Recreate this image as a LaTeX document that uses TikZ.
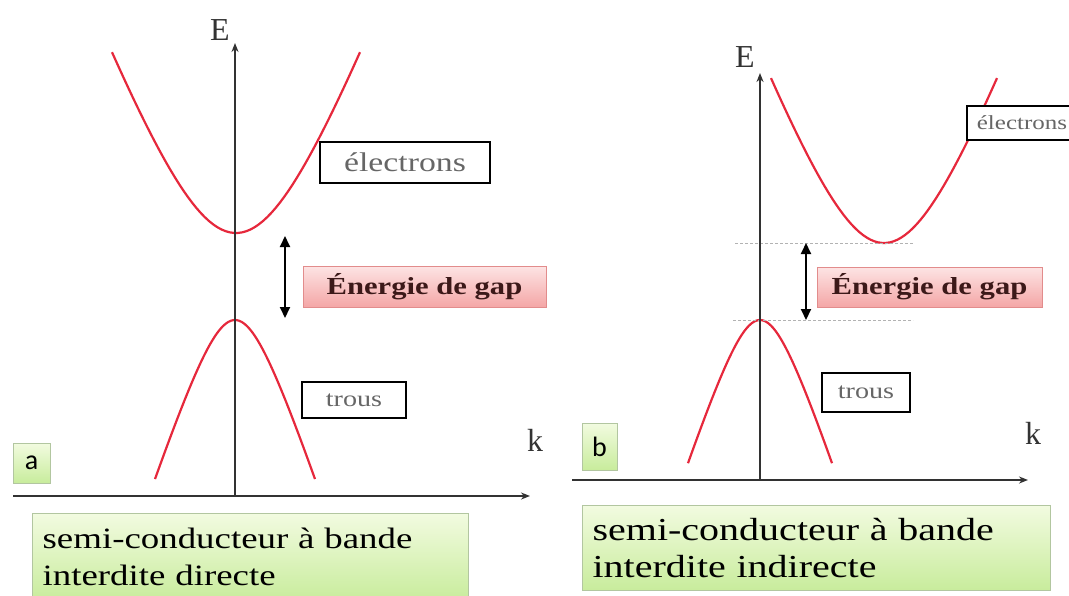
\documentclass[tikz,border=0pt]{standalone}
\usepackage{fontspec}
\setmainfont{Liberation Serif}[FakeStretch=1.25]
\newfontfamily\axefont{Liberation Serif}
\newfontfamily\tagfont{Carlito}
\usetikzlibrary{arrows.meta,positioning}
\definecolor{bandred}{RGB}{230,40,60}
\definecolor{axegris}{RGB}{50,50,50}
\definecolor{gaptop}{RGB}{253,228,228}
\definecolor{gapbot}{RGB}{244,166,166}
\definecolor{gapline}{RGB}{226,140,140}
\definecolor{gaptext}{RGB}{60,25,25}
\definecolor{legtop}{RGB}{242,251,224}
\definecolor{legbot}{RGB}{200,236,156}
\definecolor{legline}{RGB}{178,198,160}
\newcommand{\bandecond}[5]{\draw[bandline] plot[domain=-#4:#4,samples=60] ({#1+\x},{#2-#5*10*(sqrt((#3/10)^2+(\x/10)^2)-#3/10)});}
\newcommand{\bandeval}[5]{\draw[bandline] plot[domain=-#4:#4,samples=60] ({#1+\x},{#2+#5*10*(sqrt((#3/10)^2+(\x/10)^2)-#3/10)});}
\tikzset{
  bandline/.style={bandred,line width=2.2pt,line join=round},
  axe/.style={axegris,line width=2.2pt,-{Stealth[length=9pt,width=7pt]}},
  fleche/.style={black,line width=2pt,{Triangle[length=11pt,width=10pt]}-{Triangle[length=11pt,width=10pt]}},
  pointille/.style={gray!60,line width=1pt,dash pattern=on 3pt off 2pt},
  boite/.style={draw=black,line width=2.2pt,fill=white,inner sep=0pt,text=black!60},
  gapboite/.style={draw=gapline,line width=1pt,top color=gaptop,bottom color=gapbot,inner sep=0pt,
    text=gaptext,font=\bfseries\fontsize{24.5}{24.5}\selectfont},
  legende/.style={draw=legline,line width=1.2pt,top color=legtop,bottom color=legbot,anchor=north west,
    align=left,inner xsep=10pt,inner ysep=0pt,text=black},
  etiq/.style={draw=legline,line width=1pt,top color=legtop,bottom color=legbot,inner sep=0pt,
    font=\tagfont\fontsize{28}{28}\selectfont},
  axelabel/.style={font=\axefont\fontsize{32}{32}\selectfont,text=black!80}
}

\begin{document}
\begin{tikzpicture}[x=1pt,y=-1pt]
\useasboundingbox (0,0) rectangle (1069,595);

% (a) bande interdite directe
\bandecond{236}{233}{78}{124}{2.64}
\bandeval{235}{320}{35}{80}{3.04}
\coordinate (axeGa) at (13,496);
\coordinate (axeDa) at (530,496);
\coordinate (axeBa) at (235,496);
\coordinate (axeHa) at (235,43);
\draw[axe] (axeGa) -- (axeDa);
\draw[axe] (axeBa) -- (axeHa);
\coordinate (gapHa) at (285,236);
\coordinate (gapBa) at (285,318);
\draw[fleche] (gapHa) -- (gapBa);
\node[boite,minimum width=170pt,minimum height=41pt,font=\fontsize{27}{27}\selectfont] (elecA) at (405,162.5) {électrons};
\node[gapboite,minimum width=243pt,minimum height=41pt] (gapA) at (424.5,286.5) {Énergie de gap};
\node[boite,minimum width=104pt,minimum height=36pt,font=\fontsize{22.5}{22.5}\selectfont] (trousA) at (354,400) {trous};
\node[etiq,minimum width=37pt,minimum height=40pt] (tagA) at (31.5,463) {a};
\node[axelabel] (E_a) at (220,30) {E};
\node[axelabel] (k_a) at (535,440) {k};
\node[legende,minimum width=436pt,minimum height=87pt,text width=416pt,font=\fontsize{29.5}{37}\selectfont] (legA) at (32,513)
  {semi-conducteur à bande\\interdite directe};

% (b) bande interdite indirecte
\bandecond{884}{243}{72}{113}{2.66}
\bandeval{760}{320}{32}{72}{3.06}
\coordinate (ptsHg) at (735,243);
\coordinate (ptsHd) at (913,243);
\coordinate (ptsBg) at (733,320);
\coordinate (ptsBd) at (913,320);
\draw[pointille] (ptsHg) -- (ptsHd);
\draw[pointille] (ptsBg) -- (ptsBd);
\coordinate (axeGb) at (572,480);
\coordinate (axeDb) at (1028,480);
\coordinate (axeBb) at (760,480);
\coordinate (axeHb) at (760,73);
\draw[axe] (axeGb) -- (axeDb);
\draw[axe] (axeBb) -- (axeHb);
\coordinate (gapHb) at (806,243);
\coordinate (gapBb) at (806,320);
\draw[fleche] (gapHb) -- (gapBb);
\node[boite,minimum width=110pt,minimum height=34pt,font=\fontsize{20}{20}\selectfont] (elecB) at (1022,123) {électrons};
\node[gapboite,minimum width=225pt,minimum height=40pt] (gapB) at (929.5,287) {Énergie de gap};
\node[boite,minimum width=88pt,minimum height=39pt,font=\fontsize{22.5}{22.5}\selectfont] (trousB) at (866,392.5) {trous};
\node[etiq,minimum width=35pt,minimum height=47pt] (tagB) at (599.5,446.5) {b};
\node[axelabel] (E_b) at (745,57) {E};
\node[axelabel] (k_b) at (1033,433) {k};
\node[legende,minimum width=468pt,minimum height=85pt,text width=448pt,font=\fontsize{32}{37}\selectfont] (legB) at (582,505)
  {semi-conducteur à bande\\interdite indirecte};
\end{tikzpicture}
\end{document}
